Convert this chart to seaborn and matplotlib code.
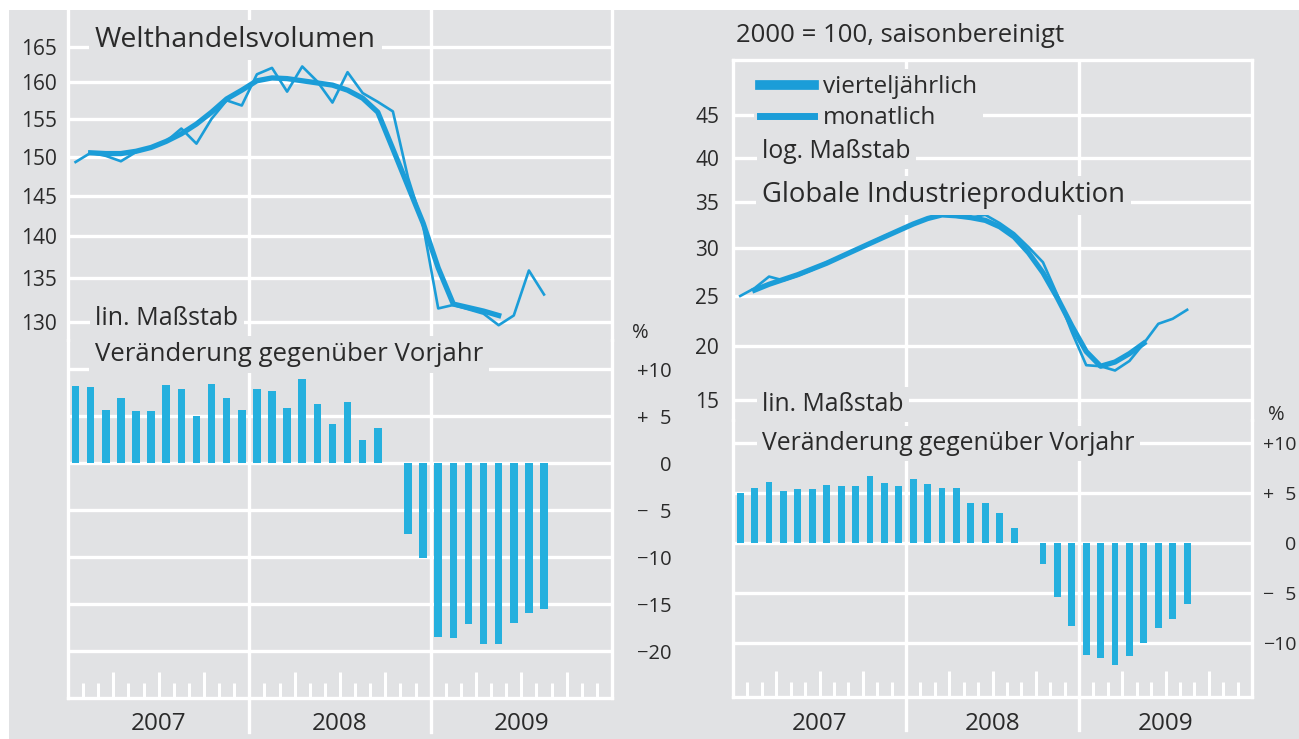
import numpy as np
import pandas as pd
import matplotlib
matplotlib.use("Agg")
import matplotlib.pyplot as plt
from matplotlib.lines import Line2D
from matplotlib.patches import Rectangle
from matplotlib.ticker import FixedLocator, NullLocator
import matplotlib.transforms as mtransforms
import seaborn as sns

# ------------------------------------------------------------------ data
years = ["2007", "2008", "2009"]

# Welthandelsvolumen (log scale), monthly and quarterly-smoothed lines
trade_monthly_start = "2007-01"
trade_monthly = [149.3, 150.5, 150.1, 149.4, 150.6, 151.2, 152.0, 153.7, 151.7, 155.0,
                 157.5, 156.8, 161.1, 162.0, 158.7, 162.2, 160.1, 157.2, 161.4, 158.5,
                 157.3, 156.0, 147.3, 141.3, 131.5, 131.9, 131.4, 130.9, 129.6, 130.7,
                 135.9, 133.1]
trade_quarterly_start = "2007-02"
trade_quarterly = [150.5, 150.4, 150.4, 150.7, 151.2, 152.0, 153.0, 154.3, 155.9, 157.7,
                   158.9, 160.2, 160.6, 160.5, 160.2, 159.9, 159.6, 158.9, 157.8, 155.9,
                   151.0, 146.2, 141.6, 136.2, 132.0, 131.6, 131.2, 130.7]
# Welthandel, Veraenderung gegenueber Vorjahr (%)
trade_yoy_start = "2007-01"
trade_yoy = [8.2, 8.1, 5.6, 6.9, 5.5, 5.5, 8.3, 7.9, 5.0, 8.4, 6.9, 5.6,
             7.9, 7.7, 5.9, 8.9, 6.3, 4.2, 6.5, 2.4, 3.7, np.nan, -7.6, -10.1,
             -18.5, -18.6, -17.1, -19.3, -19.3, -17.0, -16.0, -15.5]

# Globale Industrieproduktion
ip_monthly_start = "2007-01"
ip_monthly = [25.0, 25.8, 27.0, 26.6, 27.1, 27.7, 28.5, 29.1, 29.8, 30.5,
              31.3, 31.9, 32.6, 33.2, 33.8, 33.4, 33.3, 33.6, 32.7, 31.6,
              30.1, 28.5, 25.1, 21.4, 18.2, 18.1, 17.7, 18.6, 20.3, 22.2,
              22.7, 23.6]
ip_quarterly_start = "2007-02"
ip_quarterly = [25.6, 26.2, 26.7, 27.2, 27.8, 28.4, 29.1, 29.8, 30.5, 31.2,
                31.9, 32.6, 33.2, 33.6, 33.5, 33.3, 33.0, 32.3, 31.2, 29.5,
                27.4, 24.8, 22.0, 19.5, 18.1, 18.5, 19.3, 20.3]
ip_yoy_start = "2007-01"
ip_yoy = [5.0, 5.5, 6.1, 5.2, 5.4, 5.4, 5.8, 5.7, 5.7, 6.7, 6.0, 5.7,
          6.4, 5.9, 5.5, 5.5, 4.0, 4.0, 3.0, 1.5, np.nan, -2.1, -5.4, -8.3,
          -11.2, -11.5, -12.2, -11.3, -10.0, -8.5, -7.6, -6.1]

trade_ticks = [130, 135, 140, 145, 150, 155, 160, 165]
ip_ticks = [15, 20, 25, 30, 35, 40, 45]
trade_pct_ticks = [10, 5, 0, -5, -10, -15, -20]
trade_pct_labels = ["+10", "+\u20075", "0", "\u2212\u20075", "\u221210", "\u221215", "\u221220"]
ip_pct_ticks = [10, 5, 0, -5, -10]
ip_pct_labels = ["+10", "+\u20075", "0", "\u2212\u20075", "\u221210"]

legend_labels = ["vierteljährlich", "monatlich"]

# ------------------------------------------------------------------ style
BG = "#e1e2e4"
LINE = "#1b9dd8"
BAR = "#25b0de"
TXT = "#2a2a2a"
W, H = 1299, 739

plt.rcParams["font.family"] = ["Open Sans", "DejaVu Sans"]
plt.rcParams["text.color"] = TXT

fig = plt.figure(figsize=(W / 100, H / 100), dpi=100, facecolor="white")
fig.add_artist(Rectangle((9 / W, 0), 1 - 9 / W, 1 - 10 / H, transform=fig.transFigure,
                         facecolor=BG, edgecolor="none", zorder=-10))


def add_ax(x0, y0, x1, y1):
    ax = fig.add_axes([x0 / W, 1 - y1 / H, (x1 - x0) / W, (y1 - y0) / H])
    ax.patch.set_visible(False)
    return ax


def month_pos(start, n):
    y, m = map(int, start.split("-"))
    s = (y - 2007) * 12 + (m - 1)
    return np.arange(s, s + n, dtype=float)


def draw_line(ax, start, vals, lw):
    x = month_pos(start, len(vals))
    sns.lineplot(x=x, y=vals, ax=ax, color=LINE, linewidth=lw, estimator=None, sort=False)


def draw_bars(ax, start, vals, width):
    x = month_pos(start, len(vals))
    v = np.asarray(vals, dtype=float)
    ok = ~np.isnan(v)
    df = pd.DataFrame({"m": x[ok], "v": v[ok]})
    sns.barplot(data=df, x="m", y="v", native_scale=True, width=width, color=BAR,
                saturation=1, errorbar=None, linewidth=0, ax=ax)
    for p in ax.patches:
        p.set_zorder(3)


GW = 2.4  # grid width (pt)
n_months = 36
year_bounds = [11.5, 23.5]
quarter_bounds = [q * 3 - 0.5 for q in range(1, 12) if q % 4 != 0]
month_bounds = [m - 0.5 for m in range(1, 36) if m % 3 != 0]


def style_common(ax, ylim, top_spine=False, bottom_spine=False):
    ax.set_xlim(-0.5, n_months - 0.5)
    ax.set_ylim(*ylim)
    ax.set_xlabel("")
    ax.set_ylabel("")
    ax.set_axisbelow(True)
    ax.grid(axis="y", color="white", linewidth=GW)
    ax.grid(axis="x", visible=False)
    for s in ["left", "right"]:
        ax.spines[s].set_color("white")
        ax.spines[s].set_linewidth(GW)
    ax.spines["top"].set_visible(top_spine)
    ax.spines["top"].set_color("white")
    ax.spines["top"].set_linewidth(GW)
    ax.spines["bottom"].set_visible(bottom_spine)
    ax.spines["bottom"].set_color("white")
    ax.spines["bottom"].set_linewidth(GW)
    ax.tick_params(axis="y", length=0, labelsize=15, labelcolor=TXT)


def bottom_ticks(ax, ext, label_y):
    ax.xaxis.set_major_locator(FixedLocator(quarter_bounds))
    ax.xaxis.set_minor_locator(FixedLocator(month_bounds))
    ax.tick_params(axis="x", which="both", direction="in", color="white", width=2.2,
                   labelbottom=False, bottom=True, top=False)
    ax.tick_params(axis="x", which="major", length=18.5)
    ax.tick_params(axis="x", which="minor", length=10.5)
    for xb in year_bounds:
        ax.axvline(xb, ymin=-ext, ymax=1, color="white", linewidth=GW, clip_on=False, zorder=0.8)
    tr = mtransforms.blended_transform_factory(ax.transData, ax.transAxes)
    for i, yl in enumerate(years):
        ax.text(5.5 + 12 * i, label_y, yl, transform=tr, ha="center", va="baseline",
                fontsize=17.5, color=TXT)


def right_labels(ax, ticks, labels, pad, size=14.5):
    ax.yaxis.tick_right()
    ax.set_yticks(ticks)
    ax.set_yticklabels(labels)
    ax.tick_params(axis="y", length=0, pad=pad, labelsize=size, labelright=True, labelleft=False)
    for t in ax.get_yticklabels():
        t.set_ha("right")


# ------------------------------------------------------------------ left panel
axLt = add_ax(68, 10, 612, 340)
draw_line(axLt, trade_quarterly_start, trade_quarterly, 3.8)
draw_line(axLt, trade_monthly_start, trade_monthly, 1.9)
axLt.set_yscale("log")
style_common(axLt, (127.95, 170.34))
axLt.yaxis.set_major_locator(FixedLocator(trade_ticks))
axLt.yaxis.set_minor_locator(NullLocator())
axLt.set_yticklabels([str(t) for t in trade_ticks])
axLt.tick_params(axis="y", pad=8)
axLt.set_xticks([])
for xb in year_bounds:
    axLt.axvline(xb, color="white", linewidth=GW, zorder=0.8)

axLb = add_ax(68, 340, 612, 698)
draw_bars(axLb, trade_yoy_start, trade_yoy, 0.5)
style_common(axLb, (-25.0, 13.09), bottom_spine=True)
right_labels(axLb, trade_pct_ticks, trade_pct_labels, 43)
bottom_ticks(axLb, 34 / 358, -32 / 358)

# ------------------------------------------------------------------ right panel
def fwd(v):
    return np.sign(v) * np.abs(v) ** 0.75


def inv(v):
    return np.sign(v) * np.abs(v) ** (4 / 3)


axRt = add_ax(733, 60, 1252, 420)
draw_line(axRt, ip_quarterly_start, ip_quarterly, 3.8)
draw_line(axRt, ip_monthly_start, ip_monthly, 1.9)
axRt.set_yscale("function", functions=(fwd, inv))
style_common(axRt, (13.225, 51.62), top_spine=True)
axRt.yaxis.set_major_locator(FixedLocator(ip_ticks))
axRt.yaxis.set_minor_locator(NullLocator())
axRt.set_yticklabels([str(t) for t in ip_ticks])
axRt.tick_params(axis="y", pad=10)
axRt.set_xticks([])
for xb in year_bounds:
    axRt.axvline(xb, color="white", linewidth=GW, zorder=0.8)

handles = [Line2D([], [], color=LINE, linewidth=7), Line2D([], [], color=LINE, linewidth=5)]
leg = axRt.legend(handles, legend_labels, loc="upper left",
                  bbox_to_anchor=(754 / W, 1 - 69 / H), bbox_transform=fig.transFigure,
                  frameon=True, facecolor=BG, edgecolor="none", framealpha=1,
                  fontsize=17.5, handlelength=2.2, handletextpad=0.4,
                  labelspacing=0.3, borderpad=0.25, borderaxespad=0)
leg.get_frame().set_boxstyle("square", pad=0)

axRb = add_ax(733, 420, 1252, 697)
draw_bars(axRb, ip_yoy_start, ip_yoy, 0.47)
style_common(axRb, (-15.4, 12.3), bottom_spine=True)
right_labels(axRb, ip_pct_ticks, ip_pct_labels, 32, size=14)
bottom_ticks(axRb, 33 / 277, -33 / 277)

# ------------------------------------------------------------------ texts
box = dict(facecolor=BG, edgecolor="none", pad=4)


def ftext(x, y, s, size, **kw):
    fig.text(x / W, 1 - y / H, s, fontsize=size, ha=kw.pop("ha", "left"), va="baseline",
             color=TXT, bbox=kw.pop("bbox", box), **kw)


ftext(95, 47, "Welthandelsvolumen", 20.5)
ftext(95, 325, "lin. Maßstab", 18)
ftext(95, 361, "Veränderung gegenüber Vorjahr", 18.5)
ftext(632, 338, "%", 14.5, bbox=None)

ftext(736, 42, "2000 = 100, saisonbereinigt", 18.5)
ftext(762, 158, "log. Maßstab", 17.8)
ftext(762, 202, "Globale Industrieproduktion", 19.8)
ftext(762, 411, "lin. Maßstab", 17.8)
ftext(762, 450, "Veränderung gegenüber Vorjahr", 17.8)
ftext(1268, 420, "%", 14.5, bbox=None)

fig.savefig("out.png", dpi=100, facecolor="white")
